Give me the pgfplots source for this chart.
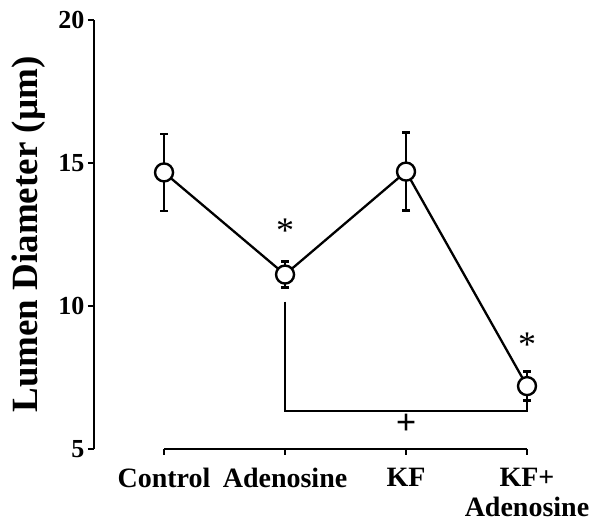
\documentclass[border=0pt]{standalone}
\usepackage{fontspec}
\setmainfont{Liberation Serif}
\usepackage{pgfplots}
\pgfplotsset{compat=1.18}
\begin{document}
\begin{tikzpicture}
\begin{axis}[
  scale only axis, width=433pt, height=429pt,
  xmin=-0.579, xmax=3, ymin=5, ymax=20,
  axis lines=left, axis line style={-, line width=2.6pt},
  x axis line style={draw=none},
  xtick={0,1,2,3}, xticklabels={Control, Adenosine, KF, {KF+\\Adenosine}},
  xticklabel style={align=center, yshift=-10pt, font=\bfseries\fontsize{28}{30}\selectfont},
  ytick={5,10,15,20},
  yticklabel style={font=\bfseries\fontsize{26}{26}\selectfont},
  /pgf/number format/assume math mode=true,
  tick align=outside, major tick length=6pt,
  tick style={line width=2.6pt, black},
  ylabel={Lumen Diameter (µm)},
  ylabel shift=6pt,
  ylabel style={font=\bfseries\fontsize{37}{37}\selectfont},
  clip=false,
]
\path (rel axis cs:0,0) ++(-94pt,-75pt) rectangle ++(605pt,524pt);
\draw[line width=2.6pt] (axis cs:0,5) -- (axis cs:3,5);
\addplot[line width=1.3pt] coordinates {(1,10.15) (1,6.33) (3,6.33) (3,6.7)};
\addplot[line width=2.3pt, black, mark=*, mark size=9pt,
  mark options={fill=white, line width=2.4pt},
  error bars/.cd, y dir=both, y explicit,
  error bar style={line width=2.8pt},
  error mark options={rotate=90, mark size=4pt, line width=2.6pt}]
  coordinates {
  (0,14.67) +- (0,1.35)
  (1,11.10) +- (0,0.45)
  (2,14.70) +- (0,1.37)
  (3,7.20) +- (0,0.50)
  };
\node at (axis cs:1,12.62) {\fontsize{36}{36}\selectfont *};
\node at (axis cs:3,8.66) {\fontsize{36}{36}\selectfont *};
\node at (axis cs:2,5.85) {\bfseries\fontsize{36}{36}\selectfont +};
\end{axis}
\end{tikzpicture}
\end{document}
